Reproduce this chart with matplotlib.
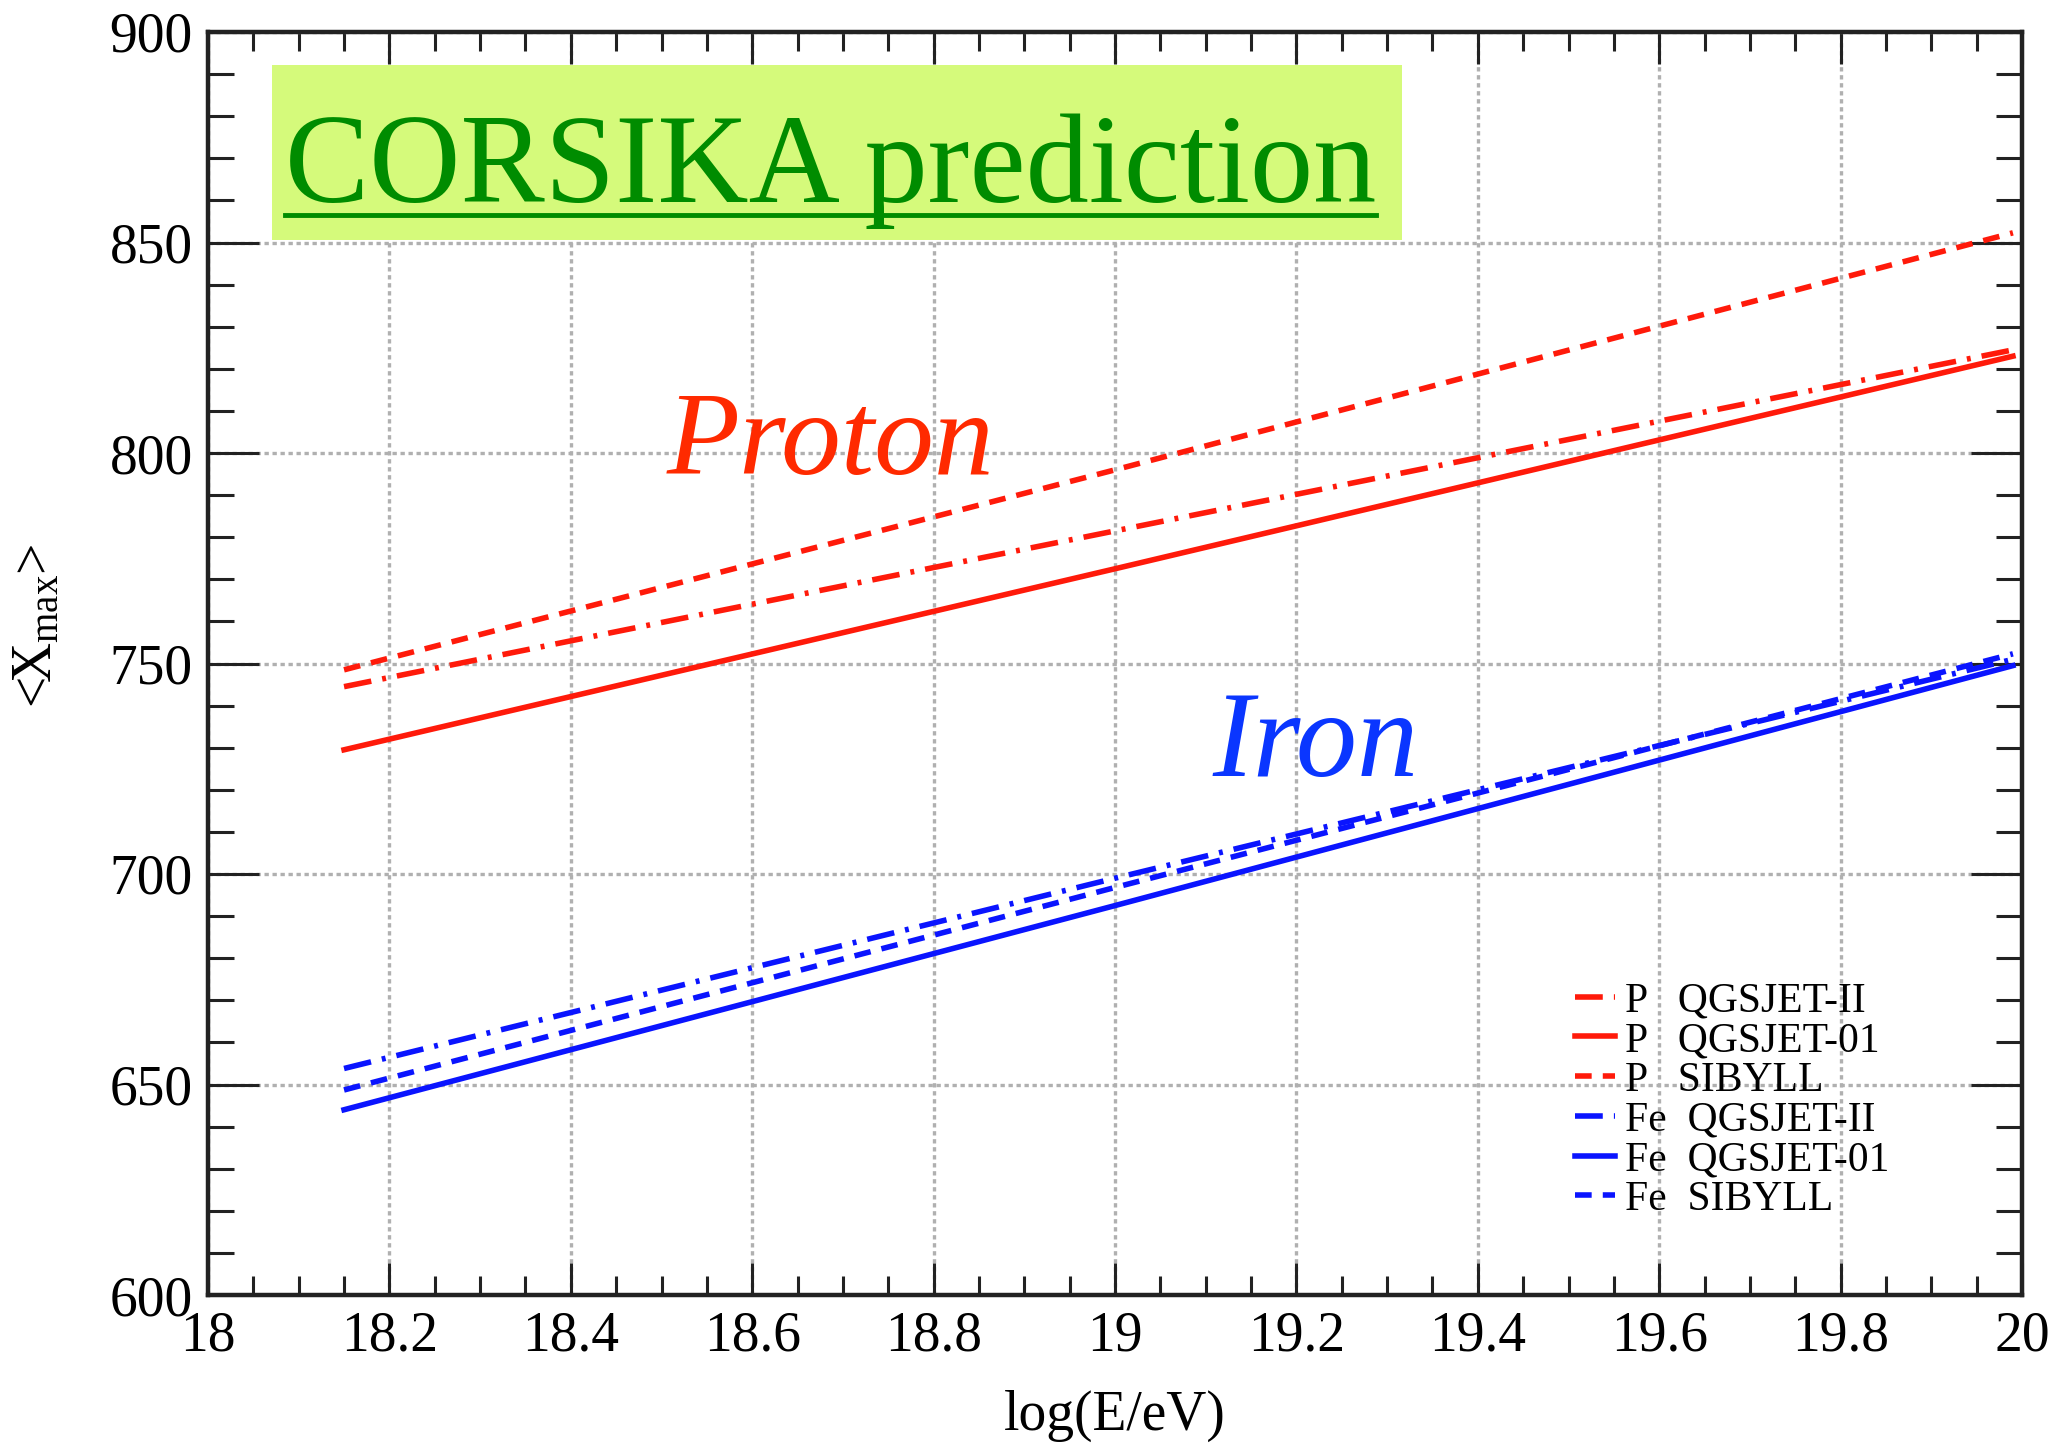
import matplotlib
matplotlib.use('Agg')
import matplotlib.pyplot as plt
from matplotlib.patches import Rectangle
from matplotlib.lines import Line2D
from matplotlib.ticker import MultipleLocator

plt.rcParams['font.family'] = ['Liberation Serif', 'DejaVu Serif']
plt.rcParams['mathtext.fontset'] = 'custom'
plt.rcParams['mathtext.rm'] = 'Liberation Serif'
plt.rcParams['mathtext.it'] = 'Liberation Serif:italic'

# energy points, log10(E/eV)
log_e = [18.15, 19.0, 19.99]

# mean depth of shower maximum <Xmax> (g/cm^2)
p_qgsjet2 = [744.5, 781.5, 824.5]
p_qgsjet01 = [729.5, 772.5, 823.0]
p_sibyll = [748.5, 796.0, 852.3]
fe_qgsjet2 = [653.8, 699.0, 751.0]
fe_qgsjet01 = [644.0, 692.5, 749.5]
fe_sibyll = [648.7, 696.8, 752.3]

labels = ['P   QGSJET-II', 'P   QGSJET-01', 'P   SIBYLL',
          'Fe  QGSJET-II', 'Fe  QGSJET-01', 'Fe  SIBYLL']

W, H = 2049, 1444
fig = plt.figure(figsize=(W / 100, H / 100), dpi=100)
ax = fig.add_axes([208 / W, 1 - 1295 / H, (2022 - 208) / W, (1295 - 32) / H])

red = '#ff1a0a'
blue = '#0a14ff'
dashdot = (0, (5, 2, 0.7, 2))
dashed = (0, (3, 2))
lw = 4

series = [
    (p_qgsjet2, red, dashdot),
    (p_qgsjet01, red, '-'),
    (p_sibyll, red, dashed),
    (fe_qgsjet2, blue, dashdot),
    (fe_qgsjet01, blue, '-'),
    (fe_sibyll, blue, dashed),
]
for (vals, col, ls), lab in zip(series, labels):
    ax.plot(log_e, vals, color=col, ls=ls, lw=lw, label=lab, zorder=3)

ax.set_xlim(18, 20)
ax.set_ylim(600, 900)
ax.xaxis.set_major_locator(MultipleLocator(0.2))
ax.xaxis.set_minor_locator(MultipleLocator(0.05))
ax.yaxis.set_major_locator(MultipleLocator(50))
ax.yaxis.set_minor_locator(MultipleLocator(10))
ax.set_xticks([18, 18.2, 18.4, 18.6, 18.8, 19, 19.2, 19.4, 19.6, 19.8, 20])
ax.set_xticklabels(['18', '18.2', '18.4', '18.6', '18.8', '19',
                    '19.2', '19.4', '19.6', '19.8', '20'])

ax.grid(True, which='major', color='#b0b0b0', lw=2.4, ls=(0, (1.3, 1.1)), zorder=1)
ax.set_axisbelow(True)

ax.tick_params(axis='both', which='both', direction='in', top=True, right=True,
               colors='#222222', width=2.2, labelsize=40, labelcolor='black')
ax.tick_params(axis='x', which='major', length=23, pad=11)
ax.tick_params(axis='x', which='minor', length=14)
ax.tick_params(axis='y', which='major', length=37, pad=11)
ax.tick_params(axis='y', which='minor', length=19)
for sp in ax.spines.values():
    sp.set_linewidth(3.2)
    sp.set_color('#222222')

ax.set_xlabel('log(E/eV)', fontsize=40, labelpad=20)
ax.set_ylabel(r'<X$_{\mathrm{max}}$>', fontsize=40)
ax.yaxis.set_label_coords(-0.08, 0.53)

leg = ax.legend(loc='upper left', bbox_to_anchor=(0.7536, 0.248), frameon=False,
                fontsize=30, handlelength=0.95, handletextpad=0.25,
                labelspacing=0.03, borderpad=0, borderaxespad=0)

ax.text(18.506, 795, 'Proton', fontsize=86, style='italic', color='#ff2a00',
        ha='left', va='baseline', zorder=4)
ax.text(19.108, 723.2, 'Iron', fontsize=88, style='italic', color='#0a36ff',
        ha='left', va='baseline', zorder=4)

# title banner with underlined green text
fig.add_artist(Rectangle((272 / W, 1 - 240 / H), (1402 - 272) / W, (240 - 65) / H,
                         transform=fig.transFigure, facecolor='#d5fa7b',
                         edgecolor='none', zorder=5))
title = fig.text(285 / W, 1 - 202 / H, 'CORSIKA prediction', fontsize=91,
                 color='#008c00', ha='left', va='baseline', zorder=6)
fig.canvas.draw()
bb = title.get_window_extent()
uy = 1 - 215 / H
fig.add_artist(Line2D([bb.x0 / W, bb.x1 / W], [uy, uy], transform=fig.transFigure,
                      color='#008c00', lw=3.5, zorder=6))

fig.savefig('out.png', dpi=100)
